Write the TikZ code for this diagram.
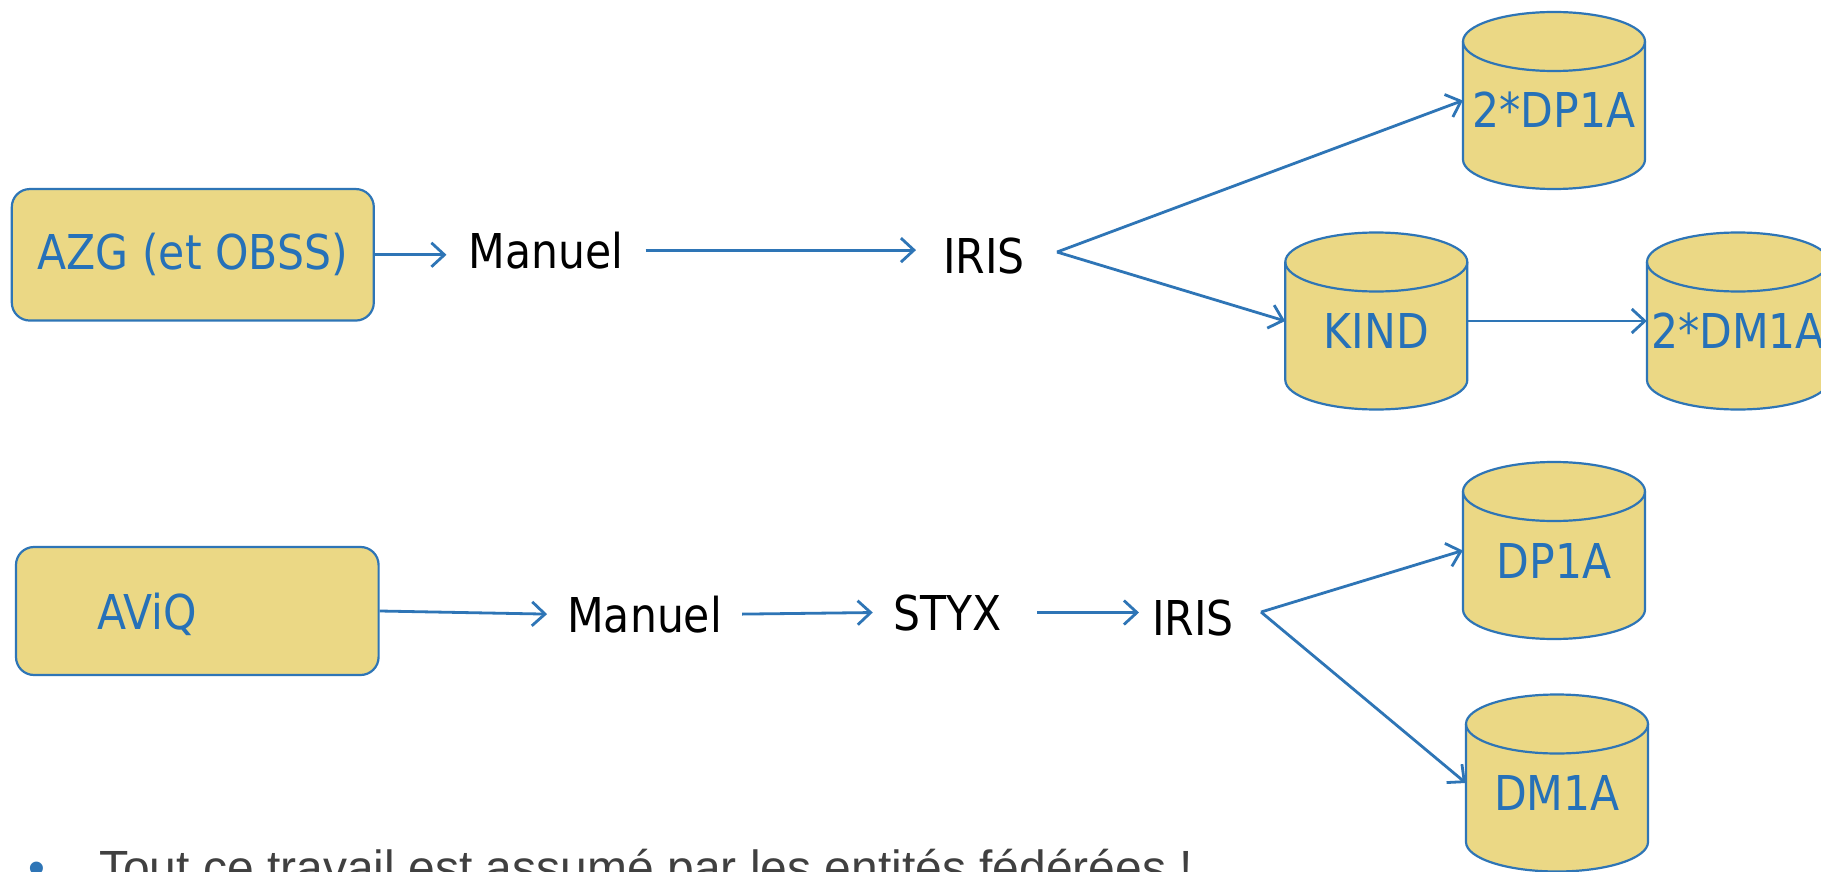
\documentclass[tikz,border=0pt]{standalone}
\usepackage{fontspec}
\newfontfamily\tah{DejaVu Sans}[FakeStretch=0.886]
\newfontfamily\arialf{Liberation Sans}
\usetikzlibrary{arrows.meta}
\definecolor{blu}{RGB}{46,117,182}
\definecolor{txtb}{RGB}{38,113,184}
\definecolor{fil}{RGB}{235,216,133}
\definecolor{graytxt}{RGB}{64,64,64}
\tikzset{
  lbl/.style={font=\tah\fontsize{48}{58}\selectfont, text=black, inner xsep=22pt, inner ysep=0pt},
  boxnode/.style={draw=blu, line width=2.2pt, fill=fil, rounded corners=18pt, text=txtb,
    font=\tah\fontsize{48}{58}\selectfont, inner sep=0pt},
  arr/.style={draw=blu, line width=2.8pt, -{Straight Barb[length=13pt,width=24pt]}},
  cylshape/.style={draw=blu, line width=2.2pt, fill=fil},
  cylnode/.style={minimum width=182pt, minimum height=177pt, inner sep=0pt,
    text height=55pt, text depth=0pt, text=txtb, font=\tah\fontsize{48}{58}\selectfont},
}
\newcommand\dbcyl[4]{%
  \path[cylshape] (#2-91,#3-59) -- (#2-91,#3+59)
     arc[start angle=180,end angle=360,x radius=91pt,y radius=29.5pt]
     -- (#2+91,#3-59)
     arc[start angle=0,end angle=180,x radius=91pt,y radius=29.5pt] -- cycle;
  \draw[blu, line width=2.2pt] (#2-91,#3-59)
     arc[start angle=180,end angle=360,x radius=91pt,y radius=29.5pt];
  \node[cylnode] (#1) at (#2,#3) {#4};
}
\begin{document}
\begin{tikzpicture}[x=1pt,y=-1pt]
\useasboundingbox[fill=white] (0,0) rectangle (1821,872);
\clip (0,0) rectangle (1821,872);

% row 1
\node[boxnode, minimum width=362pt, minimum height=131.5pt] (azg) at (192.8,254.8) {AZG (et OBSS)};
\node[lbl, anchor=base] (man1) at (546,268) {Manuel};
\node[lbl, anchor=base, inner xsep=27pt] (iris1) at (984,273) {IRIS};
\dbcyl{dp2}{1554}{100.5}{2*DP1A}
\dbcyl{kind}{1376.3}{321}{KIND}
\dbcyl{dm2}{1738}{321}{2*DM1A}

\draw[arr] (azg.east) -- (man1.west |- azg.east);
\draw[arr] (man1.east) -- (man1.east -| iris1.west);
\coordinate (f1) at ([xshift=5pt,yshift=3.5pt]iris1.east);
\draw[arr] (f1) -- (dp2.west);
\draw[arr] (f1) -- (kind.west);
\draw[arr] (kind.east) -- (dm2.west);

% row 2
\node[boxnode, minimum width=362.6pt, minimum height=128pt, text height=36pt, text depth=0pt] (aviq) at (197.3,611) {AViQ\rule{100pt}{0pt}};
\node[lbl, anchor=base, inner xsep=20pt] (man2) at (644.6,632) {Manuel};
\node[lbl, anchor=base, inner xsep=21pt] (styx) at (948,630) {STYX};
\node[lbl, anchor=base, inner xsep=27pt] (iris2) at (1193,635) {IRIS};
\dbcyl{dp1}{1554}{550.5}{DP1A}
\dbcyl{dm1}{1557}{783}{DM1A}

\draw[arr] (aviq.east) -- (man2.west);
\draw[arr] (man2.east) -- (styx.west);
\draw[arr] ([xshift=14pt]styx.east) -- ([xshift=14pt]styx.east -| iris2.west);
\coordinate (f2) at ([yshift=5.5pt]iris2.east);
\draw[arr] (f2) -- (dp1.west);
\draw[arr] (f2) -- (dm1.west);

% bottom bullet text
\node[font=\arialf\fontsize{48}{58}\selectfont, text=blu, anchor=base west, inner sep=0pt] (bul) at (28,884) {•};
\node[font=\arialf\fontsize{48}{58}\selectfont, text=graytxt, anchor=base west, inner sep=0pt] (note) at (99,884) {Tout ce travail est assumé par les entités fédérées !};
\end{tikzpicture}
\end{document}
